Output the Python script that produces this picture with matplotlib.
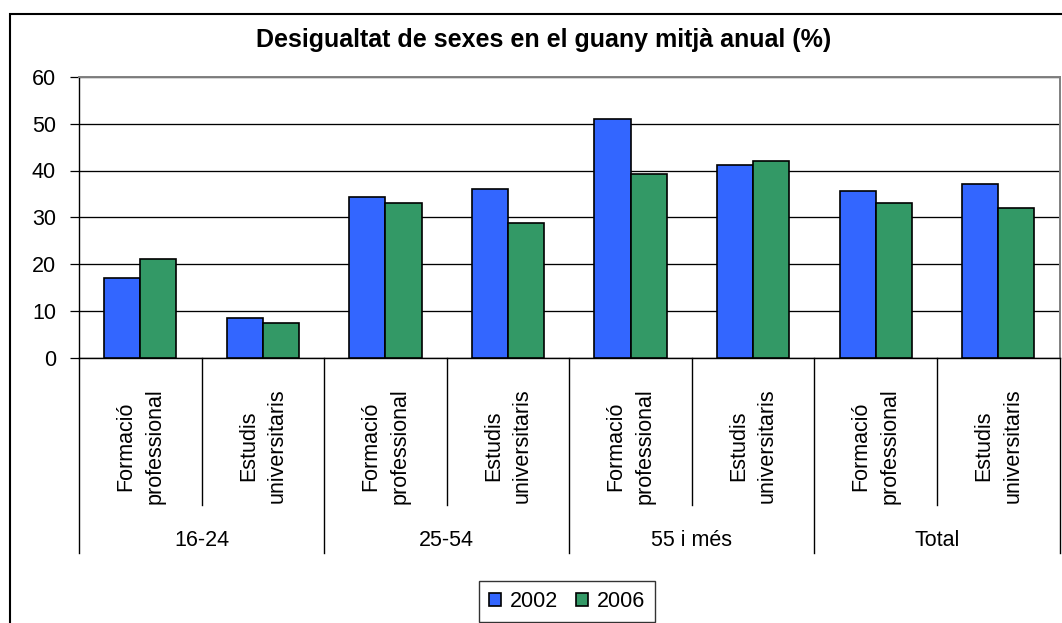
import matplotlib
matplotlib.use("Agg")
import matplotlib.pyplot as plt
import numpy as np
from matplotlib.patches import Rectangle

plt.rcParams['font.family'] = ['Liberation Sans', 'DejaVu Sans']

title = "Desigualtat de sexes en el guany mitjà anual (%)"
groups = ["16-24", "25-54", "55 i més", "Total"]
subcats = ["Formació\nprofessional", "Estudis\nuniversitaris"]
series_names = ["2002", "2006"]
values_2002 = [17.0, 8.5, 34.4, 36.0, 51.0, 41.2, 35.6, 37.2]
values_2006 = [21.0, 7.3, 33.1, 28.7, 39.2, 42.1, 33.1, 31.9]
yticks = [0, 10, 20, 30, 40, 50, 60]

c2002 = "#3366FF"
c2006 = "#339966"

W, H = 1062, 623
fig = plt.figure(figsize=(W / 100, H / 100), dpi=100)

# outer chart border
fig.patches.append(Rectangle((9.5 / W, -0.05), 1.1, 1 - 14 / H + 0.05,
                             transform=fig.transFigure, fill=False,
                             edgecolor="black", linewidth=1.5))

left, right, top, bottom = 79, 1059.5, 77, 357.5
ax = fig.add_axes([left / W, 1 - bottom / H, (right - left) / W, (bottom - top) / H])

n = len(values_2002)
x = np.arange(n)
bw = 0.295
ax.bar(x - bw / 2, values_2002, bw, color=c2002, edgecolor="black", linewidth=1.2,
       label=series_names[0], zorder=3)
ax.bar(x + bw / 2, values_2006, bw, color=c2006, edgecolor="black", linewidth=1.2,
       label=series_names[1], zorder=3)

ax.set_xlim(-0.5, n - 0.5)
ax.set_ylim(0, 60)
ax.set_yticks(yticks)
ax.set_yticklabels([str(t) for t in yticks], fontsize=15.5)
ax.tick_params(axis='y', length=6.5, width=0.9, pad=10, direction='out', color='black')
ax.set_xticks([])
ax.yaxis.grid(True, color='black', linewidth=0.95, zorder=0)
ax.set_axisbelow(True)

for s in ['top', 'right']:
    ax.spines[s].set_color('#808080')
    ax.spines[s].set_linewidth(1.4)
for s in ['left', 'bottom']:
    ax.spines[s].set_color('black')
    ax.spines[s].set_linewidth(1.0)

tr = ax.get_xaxis_transform()
ph = bottom - top
def ay(ypix):
    return (bottom - ypix) / ph

# separators
for b in np.arange(-0.5, n, 1.0):
    k = int(round(b + 0.5))
    yend = 553 if k % 2 == 0 else 505
    ax.plot([b, b], [0, ay(yend)], color='black', linewidth=1.0, transform=tr,
            clip_on=False, zorder=5)

# subcategory labels
for i in range(n):
    ax.text(i, ay(446), subcats[i % 2], rotation=90, ha='center', va='center',
            multialignment='center', fontsize=15.5, linespacing=1.5,
            transform=tr)

# group labels
for g, name in enumerate(groups):
    ax.text(2 * g + 0.5, ay(541), name, ha='center', va='center', fontsize=15.5,
            transform=tr)

fig.text(544 / W, 1 - 40 / H, title, ha='center', va='center', fontsize=18,
         fontweight='bold')

leg = fig.legend(loc='center', bbox_to_anchor=(567 / W, 1 - 601.5 / H),
                 ncol=2, fontsize=15.5, frameon=True, fancybox=False,
                 handlelength=0.55, handleheight=0.55, handletextpad=0.4,
                 columnspacing=0.85, borderpad=0.45, borderaxespad=0)
leg.get_frame().set_edgecolor('black')
leg.get_frame().set_linewidth(1.0)

fig.savefig("out.png", dpi=100)
